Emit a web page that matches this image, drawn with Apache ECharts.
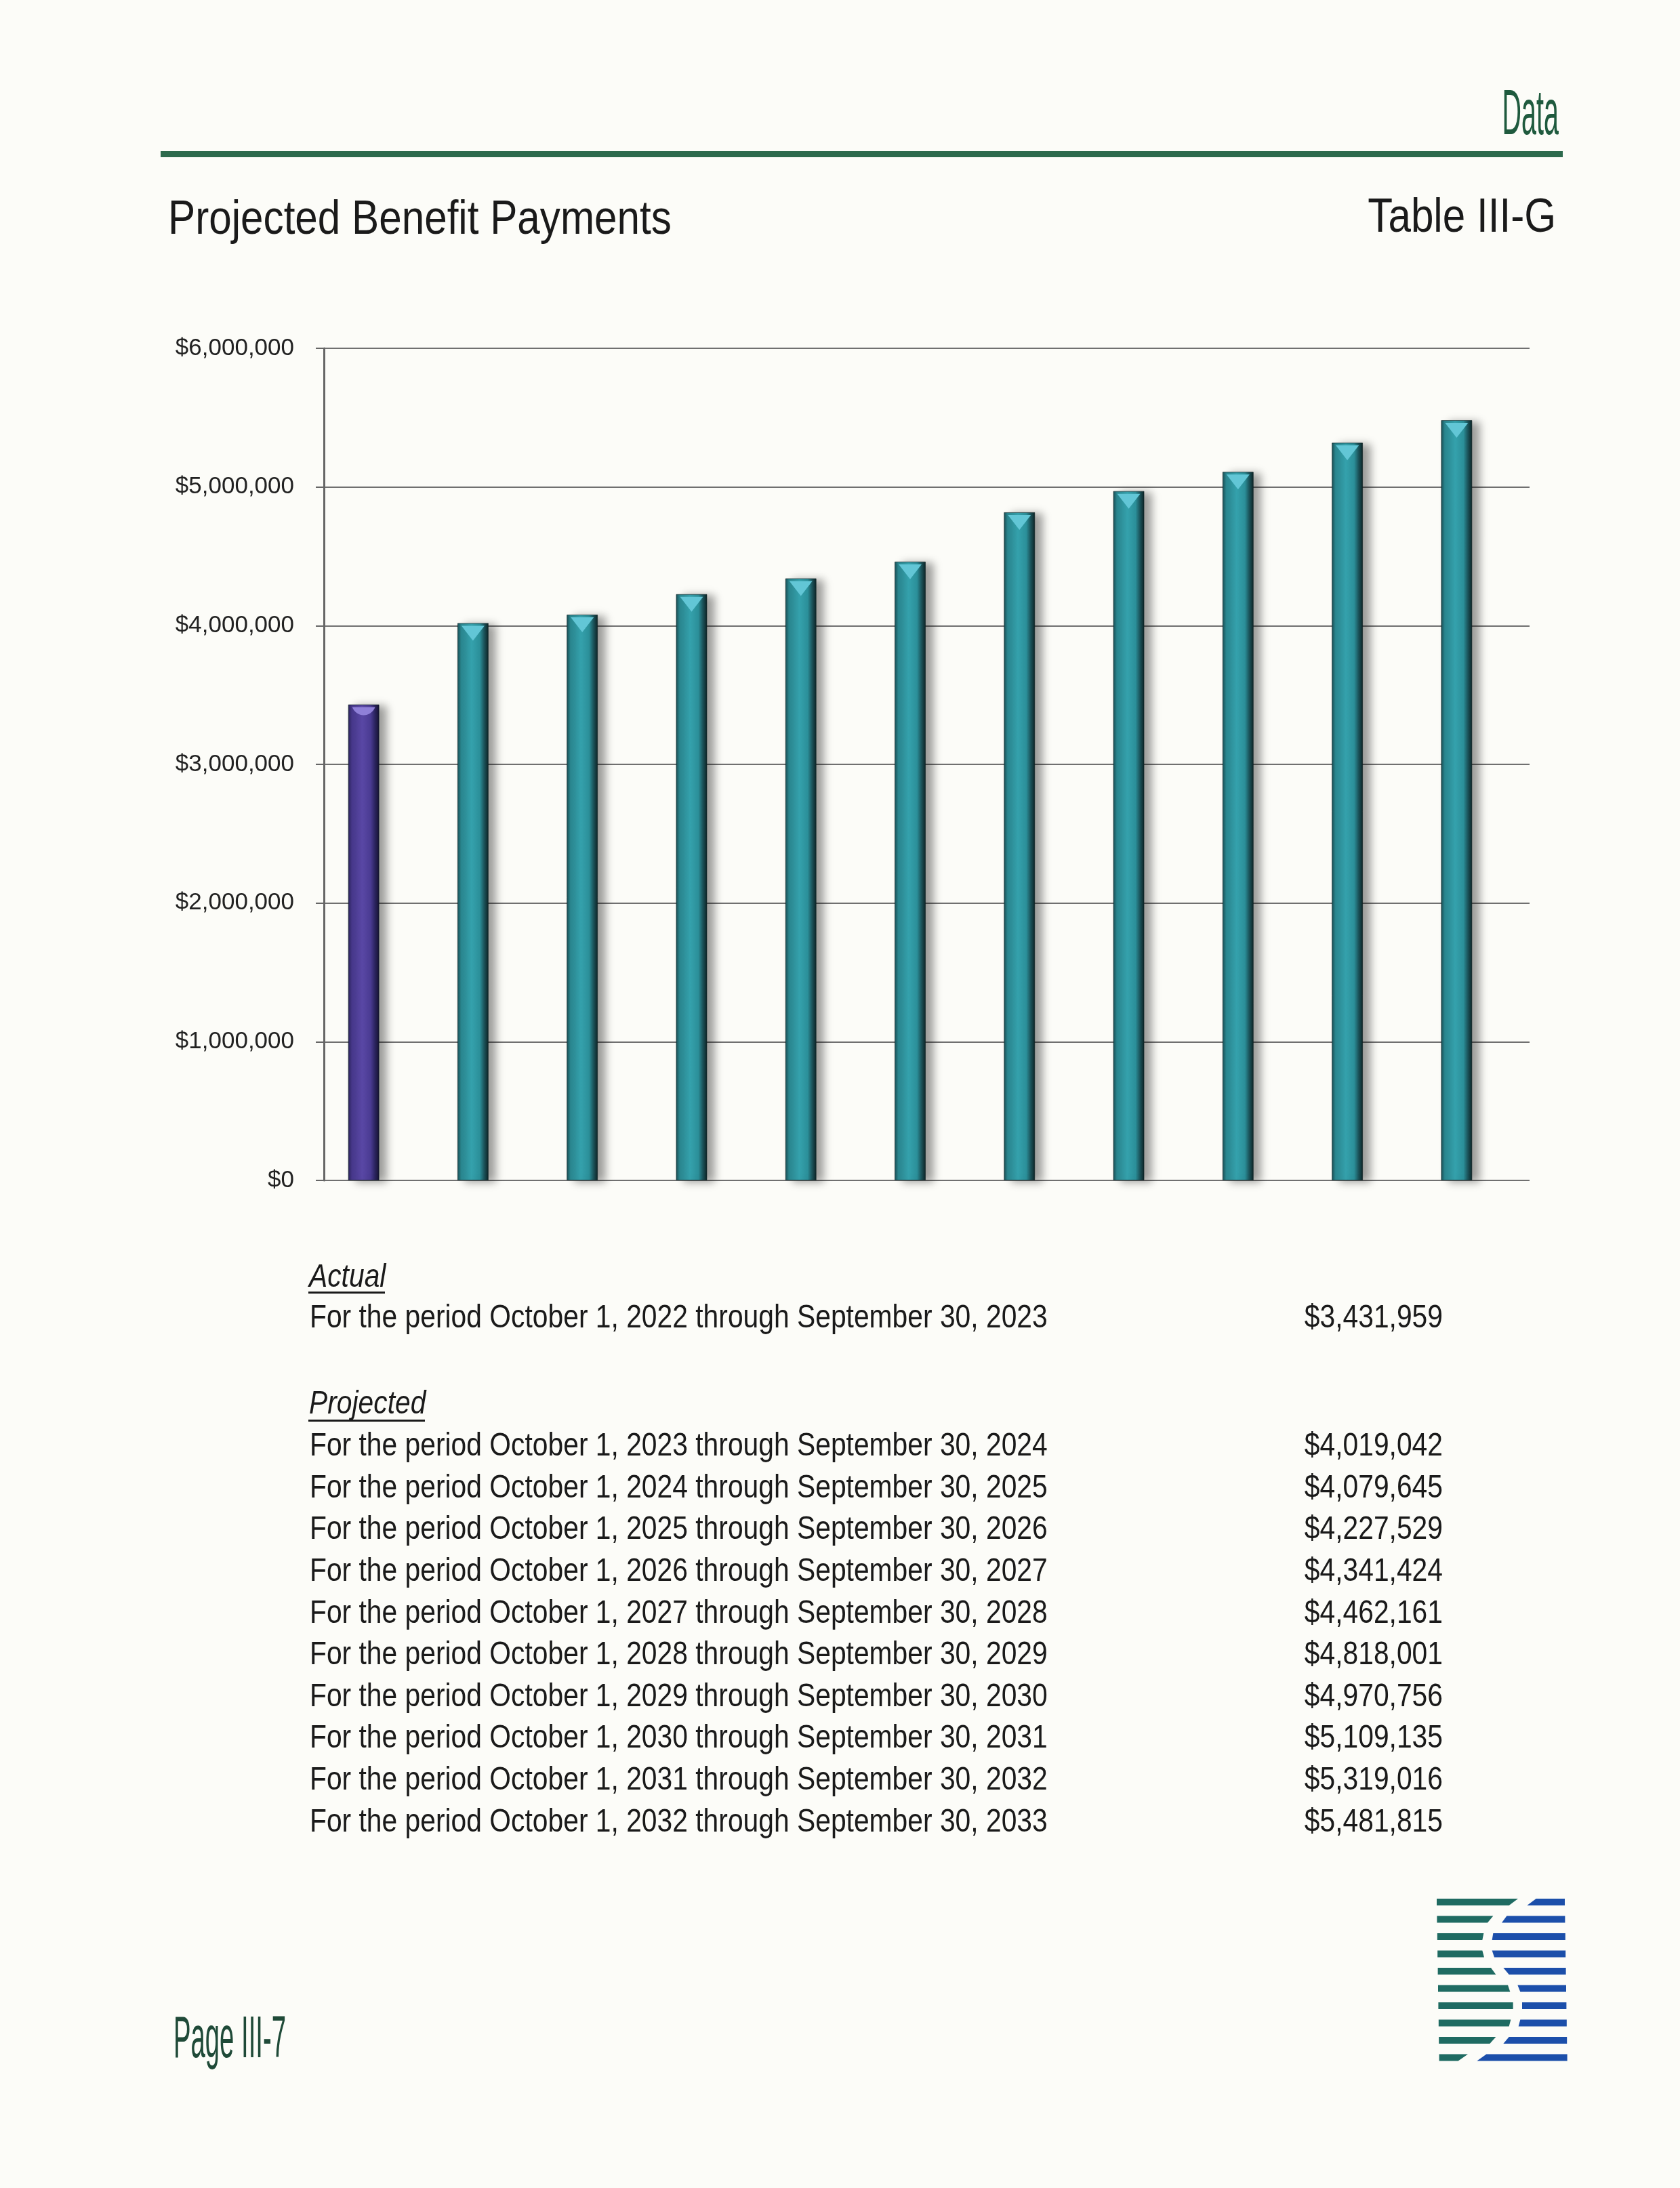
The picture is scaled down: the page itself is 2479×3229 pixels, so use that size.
<!DOCTYPE html>
<html>
<head>
<meta charset="utf-8">
<script src="https://cdn.jsdelivr.net/npm/echarts@6/dist/echarts.min.js"></script>
<style>
html,body{margin:0;padding:0;background:#fcfcf8;}
#chart{width:2479px;height:3229px;}
</style>
</head>
<body>
<div id="chart"></div>
<script>
// ---- data ----
var categories = ['2022-23','2023-24','2024-25','2025-26','2026-27','2027-28','2028-29','2029-30','2030-31','2031-32','2032-33'];
var payments = [3431959, 4019042, 4079645, 4227529, 4341424, 4462161, 4818001, 4970756, 5109135, 5319016, 5481815];
var periodStartYears = [2022, 2023, 2024, 2025, 2026, 2027, 2028, 2029, 2030, 2031, 2032];
var actualCount = 1;
var yTicks = [0, 1000000, 2000000, 3000000, 4000000, 5000000, 6000000];
var titleText = 'Projected Benefit Payments';
var tableId = 'Table III-G';
var sectionText = 'Data';
var pageText = 'Page III-7';

function money(v){ return '$' + v.toLocaleString('en-US'); }
function periodLabel(y){ return 'For the period October 1, ' + y + ' through September 30, ' + (y+1); }

var FONT = "'Liberation Sans', Arial, sans-serif";

var tealGrad = {type:'linear',x:0,y:0,x2:1,y2:0,colorStops:[
  {offset:0,color:'#1a4a50'},{offset:0.12,color:'#2a8790'},{offset:0.45,color:'#35a2ad'},
  {offset:0.72,color:'#2b8f99'},{offset:0.86,color:'#1b535a'},{offset:1,color:'#0d2224'}]};
var purpleGrad = {type:'linear',x:0,y:0,x2:1,y2:0,colorStops:[
  {offset:0,color:'#2a2356'},{offset:0.12,color:'#47388c'},{offset:0.45,color:'#5a48a6'},
  {offset:0.72,color:'#4a3b92'},{offset:0.86,color:'#2b2460'},{offset:1,color:'#161230'}]};

var barData = payments.map(function(v,i){
  return {value:v, itemStyle:{color: i < actualCount ? purpleGrad : tealGrad}};
});
var capData = payments.map(function(v,i){
  if (i < actualCount) {
    return {value:v, symbol:'path://M0,0 L20,0 C16,6 4,6 0,0 Z', symbolSize:[34,12], itemStyle:{color:'#8f80d8'}};
  }
  return {value:v, symbol:'path://M0,0 L20,0 L10,12 Z', symbolSize:[34,22], itemStyle:{color:'#62c6d6'}};
});

// ---- graphic (header, table, footer) ----
var g = [];
function txt(x, y, s, size, opts){
  opts = opts || {};
  g.push({type:'text', x:x, y:y, scaleX: opts.sx || 1, silent:true,
    style:{text:s, fontSize:size, fontFamily: opts.family || FONT, fontStyle: opts.italic ? 'italic' : 'normal',
      fill: opts.color || '#1a1a1a', textAlign: opts.align || 'left', textVerticalAlign:'middle', verticalAlign:'middle'}});
}
// section header
txt(2300, 172, sectionText, 94, {sx:0.42, align:'right', color:'#1f5a3e'});
g.push({type:'rect', shape:{x:237, y:223, width:2069, height:9}, style:{fill:'#2d6a4d'}, silent:true});
txt(248, 326, titleText, 70, {sx:0.86});
txt(2296, 323, tableId, 70, {sx:0.86, align:'right'});

// table
var rowStart = 1946, rowStep = 61.6;
txt(456, 1886, 'Actual', 48, {sx:0.85, italic:true});
g.push({type:'rect', shape:{x:455, y:1906, width:113, height:3}, style:{fill:'#1a1a1a'}, silent:true});
txt(456, 2073, 'Projected', 48, {sx:0.85, italic:true});
g.push({type:'rect', shape:{x:455, y:2095, width:172, height:3}, style:{fill:'#1a1a1a'}, silent:true});
periodStartYears.forEach(function(y,i){
  var cy = i < actualCount ? rowStart : 2135 + (i - actualCount) * rowStep;
  txt(457, cy, periodLabel(y), 48, {sx:0.85});
  txt(2129, cy, money(payments[i]), 48, {sx:0.85, align:'right'});
});

// footer page label
txt(256, 3012, pageText, 87, {sx:0.44, color:'#1f4a38'});

// logo (decoration)
var logoRows = [
  [480,440,560,520],[370,345,430,408],[328,322,370,365],[322,330,365,375],[360,382,415,440],
  [435,445,478,490],[458,458,498,498],[448,440,490,482],[382,355,440,415],[258,215,340,298]];
logoRows.forEach(function(r,i){
  var top = 2802 + i*25.5, bot = top + 10;
  var lx = 2120 + i*0.4, rx = 2309 + i*0.4;
  function X(z){ return 2080 + z/3; }
  g.push({type:'polygon', silent:true, shape:{points:[[lx,top],[X(r[0]),top],[X(r[1]),bot],[lx,bot]]}, style:{fill:'#1f6b62'}});
  g.push({type:'polygon', silent:true, shape:{points:[[X(r[2]),top],[rx,top],[rx,bot],[X(r[3]),bot]]}, style:{fill:'#1c4faa'}});
});

var chart = echarts.init(document.getElementById('chart'), null, {renderer:'canvas'});
chart.setOption({
  backgroundColor:'#fcfcf8',
  animation:false,
  grid:[
    {left:478, top:514, width:1779, height:1228},
    {left:456, top:514, width:1774, height:1228}
  ],
  xAxis:[
    {gridIndex:0, type:'category', data:categories, axisLine:{show:false}, axisTick:{show:false}, axisLabel:{show:false}},
    {gridIndex:1, type:'category', data:categories, axisLine:{show:false}, axisTick:{show:false}, axisLabel:{show:false}}
  ],
  yAxis:[
    {gridIndex:0, type:'value', min:yTicks[0], max:yTicks[yTicks.length-1], interval:yTicks[1]-yTicks[0],
      axisLine:{show:true, lineStyle:{color:'#666666', width:3}},
      axisTick:{show:true, length:12, lineStyle:{color:'#666666', width:2}},
      splitLine:{show:true, lineStyle:{color:'#707070', width:2}},
      axisLabel:{formatter:function(v){return money(v);}, fontSize:35, fontFamily:FONT, color:'#222222', margin:44}},
    {gridIndex:1, type:'value', min:yTicks[0], max:yTicks[yTicks.length-1], interval:yTicks[1]-yTicks[0],
      show:false, splitLine:{show:false}}
  ],
  series:[
    {type:'bar', xAxisIndex:1, yAxisIndex:1, data:barData, barWidth:46,
      itemStyle:{borderColor:'rgba(10,30,32,0.6)', borderWidth:1, shadowColor:'rgba(0,0,0,0.38)', shadowBlur:12, shadowOffsetX:11, shadowOffsetY:2},
      z:3},
    {type:'pictorialBar', xAxisIndex:1, yAxisIndex:1, data:capData, symbolPosition:'end', symbolOffset:[0,4], z:4, silent:true}
  ],
  graphic:{elements:g}
});
</script>
</body>
</html>
